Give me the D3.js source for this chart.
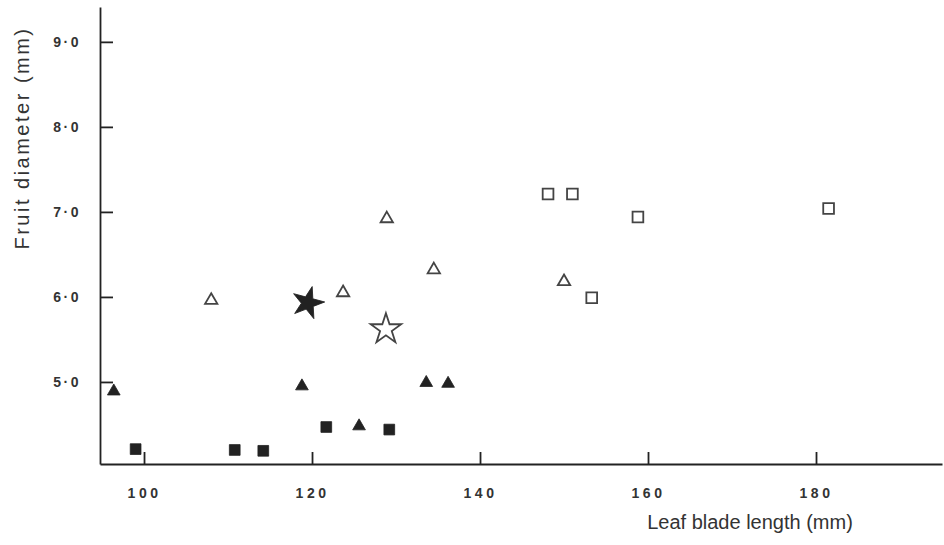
<!DOCTYPE html>
<html>
<head>
<meta charset="utf-8">
<script src="https://cdn.jsdelivr.net/npm/d3@7"></script>
<style>
  body { margin: 0; background: #fff; }
  .tick text { font-family: "Liberation Sans", Arial, sans-serif; fill: #333; }
  .aText { font-family: "Liberation Sans", Arial, sans-serif; fill: #333; }
</style>
</head>
<body>
<div id="scatter"></div>
<script>
var svgWidth = 944;
var svgHeight = 545;

// data: leaf blade length (mm) / fruit diameter (mm)
var filledTriLength = [96.4, 118.8, 125.6, 133.6, 136.2];
var filledTriDiam   = [4.89, 4.95, 4.48, 4.99, 4.98];

var filledSqLength  = [99.0, 110.8, 114.2, 121.7, 129.2];
var filledSqDiam    = [4.21, 4.20, 4.19, 4.47, 4.44];

var openTriLength   = [108.0, 123.7, 128.9, 134.5, 150.0];
var openTriDiam     = [5.96, 6.05, 6.92, 6.32, 6.18];

var openSqLength    = [148.1, 151.0, 158.8, 181.5, 153.3];
var openSqDiam      = [7.21, 7.21, 6.94, 7.04, 5.99];

var filledStarLength = [119.5];
var filledStarDiam   = [5.93];
var openStarLength   = [128.8];
var openStarDiam     = [5.62];

var xTicks = [100, 120, 140, 160, 180];
var yTicks = [5, 6, 7, 8, 9];

var svg = d3.select("#scatter")
  .append("svg")
  .attr("width", svgWidth)
  .attr("height", svgHeight);

// scales
var xScale = d3.scaleLinear()
  .domain([94.76, 195.0])
  .range([100, 942]);

var yScale = d3.scaleLinear()
  .domain([4.035, 9.41])
  .range([464, 7]);

// axes, ticks point inwards
var bottomAxis = d3.axisBottom(xScale)
  .tickValues(xTicks)
  .tickSizeInner(-12)
  .tickSizeOuter(0)
  .tickPadding(24)
  .tickFormat(d3.format("d"));

var leftAxis = d3.axisLeft(yScale)
  .tickValues(yTicks)
  .tickSizeInner(-13)
  .tickSizeOuter(0)
  .tickPadding(19)
  .tickFormat(function(d) { return d3.format(".1f")(d).replace(".", "\u00b7"); });

var gx = svg.append("g")
  .attr("transform", "translate(0,464)")
  .call(bottomAxis);
gx.selectAll("text")
  .attr("font-size", 14)
  .attr("font-weight", "bold")
  .attr("letter-spacing", "3.5px");

var gy = svg.append("g")
  .attr("transform", "translate(100,0)")
  .call(leftAxis);
gy.selectAll("text")
  .attr("font-size", 14)
  .attr("font-weight", "bold")
  .attr("letter-spacing", "2.5px");

svg.selectAll(".domain, .tick line")
  .attr("stroke", "#222")
  .attr("stroke-width", 1.8);

// axis labels
svg.append("text")
  .attr("class", "aText")
  .attr("transform", "translate(29,138) rotate(-90)")
  .attr("text-anchor", "middle")
  .attr("font-size", 20)
  .attr("letter-spacing", "2.5px")
  .text("Fruit diameter (mm)");

svg.append("text")
  .attr("class", "aText")
  .attr("x", 750)
  .attr("y", 529)
  .attr("text-anchor", "middle")
  .attr("font-size", 20)
  .text("Leaf blade length (mm)");

// markers
function zip(xs, ys) {
  return xs.map(function(v, i) { return {x: v, y: ys[i]}; });
}

function drawSeries(xs, ys, type, size, filled, rotate) {
  svg.append("g")
    .selectAll("path")
    .data(zip(xs, ys))
    .enter()
    .append("path")
    .attr("d", d3.symbol().type(type).size(size))
    .attr("transform", function(d) {
      return "translate(" + xScale(d.x) + "," + yScale(d.y) + ") rotate(" + (rotate || 0) + ")";
    })
    .attr("fill", filled ? "#222" : "#fff")
    .attr("stroke", filled ? "#222" : "#444")
    .attr("stroke-width", filled ? 0.8 : 1.8)
    .attr("stroke-linejoin", "miter");
}

drawSeries(filledTriLength, filledTriDiam, d3.symbolTriangle, 70, true);
drawSeries(filledSqLength, filledSqDiam, d3.symbolSquare, 115, true);
drawSeries(openTriLength, openTriDiam, d3.symbolTriangle, 66, false);
drawSeries(openSqLength, openSqDiam, d3.symbolSquare, 115, false);
drawSeries(filledStarLength, filledStarDiam, d3.symbolStar, 320, true, 15);
drawSeries(openStarLength, openStarDiam, d3.symbolStar, 290, false);
</script>
</body>
</html>
